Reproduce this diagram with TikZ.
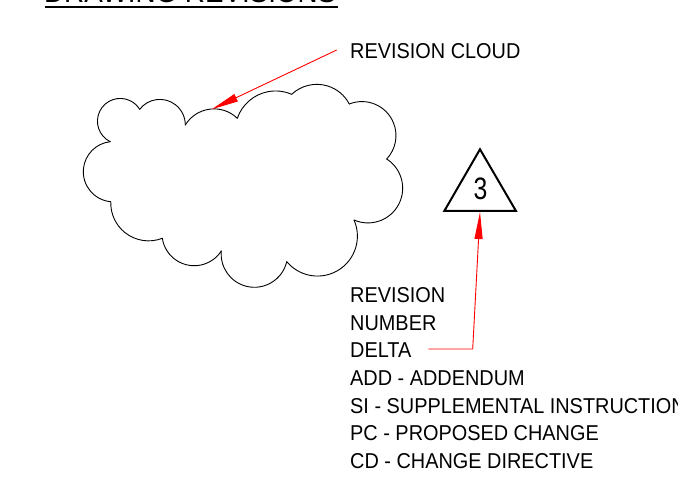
\documentclass[tikz,border=0pt]{standalone}
\usepackage{fontspec}
\setmainfont[FakeStretch=0.925]{Liberation Sans}
\newfontfamily\deltafont[FakeStretch=0.8]{Liberation Sans}
\usetikzlibrary{arrows.meta}

\begin{document}
\begin{tikzpicture}[x=1bp,y=1bp,
  cloudline/.style={line width=0.9bp, black, line cap=round},
  leader/.style={line width=0.9bp, red, -{Triangle[length=27bp,width=8bp]}},
  txt/.style={anchor=base west, inner sep=0pt, font=\fontsize{21.5bp}{26bp}\selectfont},
]
\useasboundingbox (0,0) rectangle (678,-478);
\clip (0,0) rectangle (678,-478);

% heading, underlined
\node[txt, font=\fontsize{30bp}{36bp}\selectfont] (title) at (44,-2.5) {DRAWING REVISIONS};
\draw[line width=2bp] (45,-7) -- (338,-7);

% revision cloud: one circular bump between each pair of cusps
% (cusp A, cusp B, outward bulge of the bump above its chord)
\foreach \ax/\ay/\bx/\by/\bulge in {
  110.3/141.7/139.7/109.3/29.2,
  139.7/109.3/185.3/125.0/17.3,
  185.3/125.0/237.3/118.3/12.6,
  237.3/118.3/291.7/94.3/13.0,
  291.7/94.3/349.3/104.0/14.5,
  349.3/104.0/386.7/159.0/26.7,
  386.7/159.0/354.0/220.0/32.0,
  354.0/220.0/286.7/261.7/34.4,
  286.7/261.7/221.3/251.0/30.9,
  221.3/251.0/162.3/238.3/20.8,
  162.3/238.3/110.7/201.7/17.0,
  110.7/201.7/110.3/141.7/27.2}{
  \pgfmathsetmacro{\pAy}{-(\ay)}
  \pgfmathsetmacro{\pBy}{-(\by)}
  \pgfmathsetmacro{\cdx}{(\bx)-(\ax)}
  \pgfmathsetmacro{\cdy}{(\pBy)-(\pAy)}
  \pgfmathsetmacro{\clen}{veclen(\cdx,\cdy)}
  \pgfmathsetmacro{\rad}{((\clen)*(\clen)/4+(\bulge)*(\bulge))/(2*(\bulge))}
  \pgfmathsetmacro{\coff}{(\bulge)-(\rad)}
  \pgfmathsetmacro{\ccx}{((\ax)+(\bx))/2-(\coff)*(\cdy)/(\clen)}
  \pgfmathsetmacro{\ccy}{((\pAy)+(\pBy))/2+(\coff)*(\cdx)/(\clen)}
  \pgfmathsetmacro{\sa}{atan2((\pAy)-(\ccy),(\ax)-(\ccx))}
  \pgfmathsetmacro{\eb}{atan2((\pBy)-(\ccy),(\bx)-(\ccx))}
  \pgfmathsetmacro{\ea}{(\eb)>(\sa) ? (\eb)-360 : (\eb)}
  \draw[cloudline] (\ax,\pAy) arc[start angle=\sa, end angle=\ea, radius=\rad bp];
}

% cloud callout
\node[txt] (cloudlbl) at (350,-58.3) {REVISION CLOUD};
\coordinate (cloudtail) at (336.7,-50);
\coordinate (cloudtip) at (211.7,-109.3);
\draw[leader] (cloudtail) -- (cloudtip);

% revision delta
\coordinate (dtop) at (480,-149.3);
\coordinate (dright) at (516,-211);
\coordinate (dleft) at (444.3,-211);
\draw[line width=2bp, line join=miter] (dtop) -- (dright) -- (dleft) -- cycle;
\node[anchor=base, inner sep=0pt, font=\deltafont\fontsize{31bp}{36bp}\selectfont] (revno) at (480.6,-200) {3};

% legend text
\node[txt] (l1) at (350,-302.7) {REVISION};
\node[txt] (l2) at (350,-330.3) {NUMBER};
\node[txt] (l3) at (350,-357.9) {DELTA};
\node[txt] (l4) at (350,-385.5) {ADD - ADDENDUM};
\node[txt] (l5) at (350,-413.1) {SI - SUPPLEMENTAL INSTRUCTION};
\node[txt] (l6) at (350,-440.7) {PC - PROPOSED CHANGE};
\node[txt] (l7) at (350,-468.3) {CD - CHANGE DIRECTIVE};

% delta callout
\coordinate (deltatail) at (428.3,-349);
\coordinate (deltabend) at (472.7,-349);
\coordinate (deltabase) at (480,-212);
\draw[leader] (deltatail) -- (deltabend) -- (deltabase);
\end{tikzpicture}
\end{document}
